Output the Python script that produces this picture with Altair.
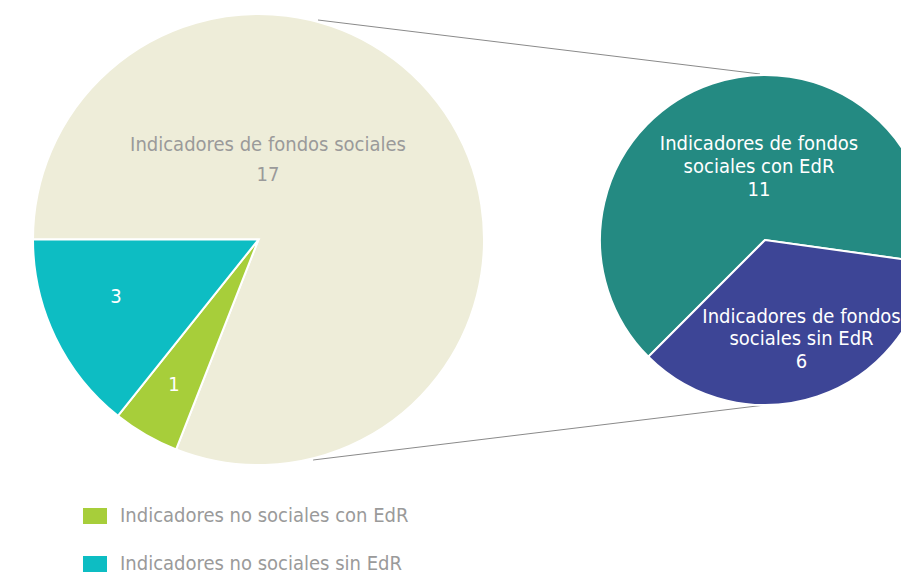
import math
import altair as alt
import pandas as pd

# ---------------- data ----------------
big_categories = ["Indicadores de fondos sociales",
                  "Indicadores no sociales con EdR",
                  "Indicadores no sociales sin EdR"]
big_values = [17, 1, 3]
big_colors = ["#EEEDD9", "#A7CE3A", "#0DBDC3"]

small_categories = ["Indicadores de fondos\nsociales con EdR",
                    "Indicadores de fondos\nsociales sin EdR"]
small_values = [11, 6]
small_colors = ["#248A82", "#3D4596"]

legend_values = big_categories[1:]

# ---------------- layout ----------------
FONT = "DejaVu Sans Condensed"
GRAY = "#9A9A9A"
FS = 20
W, H = 893, 574                      # top padding -8 -> svg is 893 x 566
BX, BY, BR = 250.5, 239.5, 225.5      # big pie centre / radius
SX, SY, SR = 757.0, 240.0, 165.0      # small pie centre / radius

big_df = pd.DataFrame({"cat": big_categories, "value": big_values,
                       "idx": list(range(len(big_values)))})
big_df["num"] = big_df["value"].astype(str)
big_df["label"] = big_df["cat"] + "\n" + big_df["value"].astype(str)

small_df = pd.DataFrame({"cat": small_categories, "value": small_values,
                         "idx": list(range(len(small_values))), "color": small_colors})
small_df["label"] = small_df["cat"] + "\n" + small_df["value"].astype(str)

# ---------------- big pie ----------------
big_theta = alt.Theta("value:Q", stack=True,
                      scale=alt.Scale(range=[-math.pi / 2, 3 * math.pi / 2]))
big_arcs = alt.Chart(big_df).mark_arc(radius=BR, stroke="white", strokeWidth=2).encode(
    theta=big_theta, order=alt.Order("idx:Q"),
    x=alt.value(BX), y=alt.value(BY),
    color=alt.Color("cat:N",
                    scale=alt.Scale(domain=big_categories, range=big_colors),
                    legend=alt.Legend(values=legend_values, title=None, orient="none",
                                      legendX=75, legendY=504,
                                      symbolType="M-1,-0.667L1,-0.667L1,0.667L-1,0.667Z",
                                      symbolSize=576, symbolStrokeWidth=0, symbolOpacity=1,
                                      labelFont=FONT, labelFontSize=FS, labelColor=GRAY,
                                      labelOffset=13, rowPadding=26, labelLimit=600)),
)

# label positions (page layout)
big_text_pos = [(260, 145, GRAY, "label:N", 30), (166, 385, "white", "num:N", 22),
                (108, 297, "white", "num:N", 22)]
big_texts = [
    alt.Chart(big_df).transform_filter(f"datum.idx == {i}").mark_text(
        font=FONT, fontSize=FS, color=col, lineBreak="\n", lineHeight=lh,
        align="center", baseline="middle").encode(
        x=alt.value(px), y=alt.value(py), text=fld)
    for i, (px, py, col, fld, lh) in enumerate(big_text_pos)
]

# ---------------- small pie ----------------
small_theta = alt.Theta("value:Q", stack=True,
                        scale=alt.Scale(range=[math.radians(225), math.radians(225) + 2 * math.pi]))
small_arcs = alt.Chart(small_df).mark_arc(radius=SR, stroke="white", strokeWidth=2, clip=True).encode(
    theta=small_theta, order=alt.Order("idx:Q"),
    x=alt.value(SX), y=alt.value(SY),
    color=alt.Color("color:N", scale=None),
)

small_label_pos = [(751, 144, 23), (793.5, 316.5, 22.5)]
small_labels = [
    alt.Chart(small_df).transform_filter(f"datum.idx == {i}").mark_text(
        font=FONT, fontSize=FS, color="white", lineBreak="\n", lineHeight=lh,
        align="center", baseline="middle").encode(
        x=alt.value(px), y=alt.value(py), text="label:N")
    for i, (px, py, lh) in enumerate(small_label_pos)
]

# ---------------- connector lines ----------------
one = pd.DataFrame({"k": [0]})
conn_top = alt.Chart(one).mark_rule(color="#8A8A8A", strokeWidth=1).encode(
    x=alt.value(310), y=alt.value(20), x2=alt.value(SX - 5), y2=alt.value(SY - SR - 1))
conn_bot = alt.Chart(one).mark_rule(color="#8A8A8A", strokeWidth=1).encode(
    x=alt.value(305), y=alt.value(460), x2=alt.value(SX), y2=alt.value(SY + SR))

chart = alt.layer(
    conn_top, conn_bot, big_arcs, *big_texts, small_arcs, *small_labels
).resolve_scale(theta="independent", color="independent").properties(
    width=W, height=H, autosize="none",
    padding={"left": 0, "top": -8, "right": 0, "bottom": 0},
).configure_view(strokeWidth=0)

chart.save("out.html", embed_options={"renderer": "svg", "actions": False})
